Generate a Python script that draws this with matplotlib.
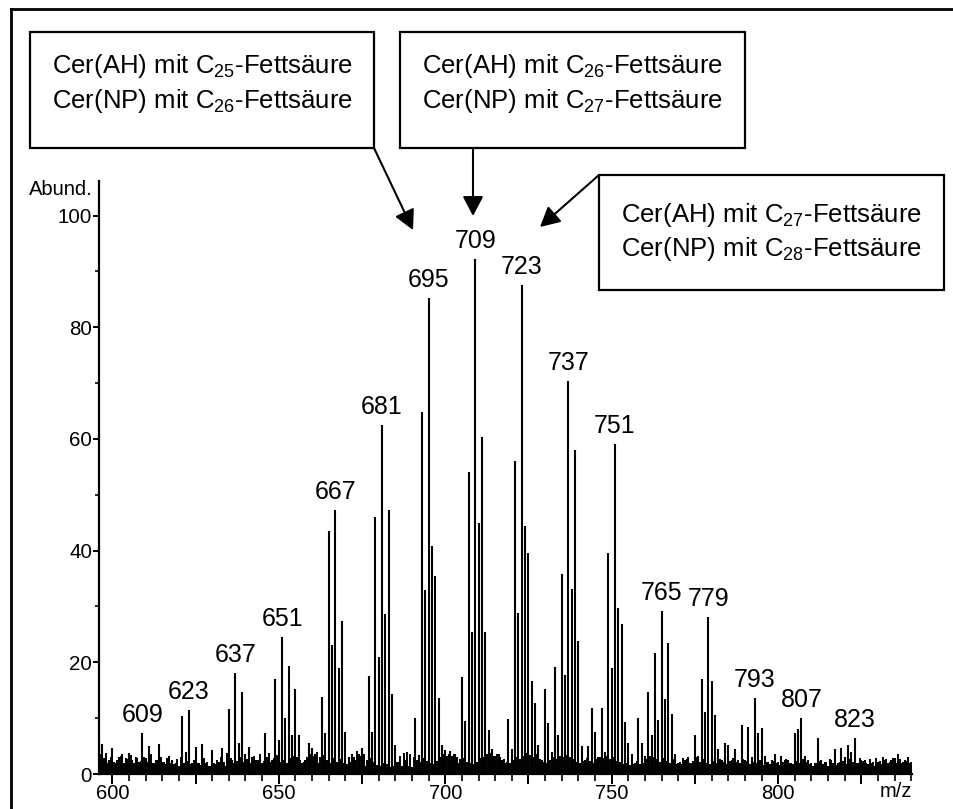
import numpy as np
import matplotlib
matplotlib.use("Agg")
import matplotlib.pyplot as plt
from matplotlib.patches import Rectangle, FancyArrowPatch
from matplotlib.lines import Line2D
from matplotlib.ticker import MultipleLocator, FuncFormatter

plt.rcParams['font.family'] = ['Liberation Sans', 'DejaVu Sans']
plt.rcParams['mathtext.default'] = 'regular'

# intensities at integer m/z, 596 ... 840
mz_start, mz_end = 596, 840
intensity = [
    6.0, 5.4, 3.8, 2.5, 4.7, 2.0, 3.0, 3.5, 2.8, 3.8,       # 596-605
    2.5, 3.0, 2.2, 7.4, 2.8, 5.0, 2.0, 2.5, 5.4, 2.2,       # 606-615
    1.8, 3.2, 2.5, 2.0, 1.5, 10.4, 3.9, 11.5, 2.0, 4.8,     # 616-625
    2.0, 5.4, 2.0, 1.5, 4.3, 1.8, 2.2, 4.6, 1.5, 11.7,      # 626-635
    2.5, 18.1, 5.6, 14.6, 3.5, 4.9, 3.0, 2.5, 2.5, 2.0,     # 636-645
    7.3, 3.8, 2.5, 17.1, 6.0, 24.6, 10.0, 19.3, 7.0, 15.3,  # 646-655
    7.0, 2.0, 2.5, 5.5, 4.6, 3.5, 2.0, 13.8, 7.4, 43.6,     # 656-665
    23.1, 47.3, 18.9, 27.4, 7.6, 3.0, 3.5, 2.5, 3.5, 4.6,   # 666-675
    1.5, 17.5, 7.6, 46.1, 21.0, 62.5, 28.6, 47.3, 14.3, 5.2,  # 676-685
    2.2, 1.5, 2.5, 1.5, 1.2, 10.1, 3.4, 64.9, 32.9, 85.3,   # 686-695
    40.8, 35.5, 13.6, 5.2, 4.3, 3.5, 3.2, 3.5, 2.0, 17.3,   # 696-705
    9.5, 54.0, 25.4, 92.3, 45.0, 60.4, 25.4, 7.9, 4.5, 3.2,  # 706-715
    3.5, 2.5, 2.0, 9.8, 4.5, 56.0, 28.9, 87.6, 44.4, 39.5,  # 716-725
    16.7, 12.7, 5.2, 2.5, 15.2, 9.1, 4.0, 19.2, 7.0, 35.9,  # 726-735
    17.7, 70.4, 33.2, 58.0, 23.9, 5.0, 2.5, 5.0, 11.8, 7.6,  # 736-745
    3.0, 11.8, 4.0, 39.6, 18.9, 59.1, 29.7, 26.9, 9.4, 5.6,  # 746-755
    3.5, 2.0, 10.1, 5.6, 3.2, 14.6, 7.0, 21.7, 9.7, 29.2,   # 756-765
    13.5, 23.4, 10.7, 3.5, 2.0, 1.8, 2.5, 3.0, 2.0, 7.0,    # 766-775
    3.2, 17.1, 11.1, 28.2, 16.7, 10.5, 4.4, 2.5, 5.6, 5.2,  # 776-785
    2.5, 4.5, 2.5, 8.8, 2.5, 8.5, 3.0, 13.7, 7.3, 8.2,      # 786-795
    3.2, 2.2, 2.5, 3.5, 2.2, 3.2, 2.5, 2.5, 2.0, 7.3,       # 796-805
    8.1, 10.1, 3.2, 2.5, 2.0, 2.0, 6.4, 2.5, 2.2, 1.5,      # 806-815
    2.5, 4.5, 2.0, 4.6, 3.0, 5.2, 4.0, 6.5, 2.0, 2.5,       # 816-825
    2.5, 1.8, 2.0, 1.5, 2.2, 1.8, 2.5, 2.0, 2.5, 2.8,       # 826-835
    3.5, 2.0, 2.5, 3.0, 2.2,                                # 836-840
]

# baseline noise between the nominal masses, 596.5 ... 839.5
noise_half = [
    3.5, 2.8, 2.0, 3.0, 2.2, 2.5, 3.2, 2.0, 2.6, 3.4,
    2.0, 2.8, 2.4, 3.0, 2.2, 3.6, 2.0, 2.5, 3.0, 2.2,
    2.8, 2.0, 1.8, 2.6, 3.0, 2.0, 2.4, 1.8, 2.5, 2.0,
    1.6, 2.8, 2.2, 1.5, 2.0, 2.5, 3.0, 2.2, 3.8, 2.8,
    2.0, 2.4, 3.0, 2.2, 2.6, 2.0, 3.2, 2.5, 3.5, 2.4,
    3.0, 2.2, 2.8, 3.4, 2.2, 2.5, 2.0, 2.8, 3.2, 3.0,
    2.5, 2.2, 3.0, 3.6, 3.2, 4.0, 3.0, 3.4, 2.5, 2.0,
    2.8, 2.2, 2.6, 2.0, 1.8, 2.2, 3.0, 4.2, 3.2, 3.6,
    2.5, 2.8, 2.2, 1.6, 1.5, 2.0, 1.8, 1.2, 1.5, 2.2,
    3.2, 3.8, 4.0, 3.6, 3.0, 2.5, 2.2, 2.8, 2.4, 2.0,
    1.8, 2.4, 3.0, 3.5, 3.2, 4.2, 3.6, 3.0, 2.6, 2.8,
    2.2, 2.0, 1.8, 2.2, 2.8, 3.0, 3.5, 3.8, 3.2, 3.6,
    3.0, 2.6, 2.2, 2.0, 2.5, 3.0, 2.6, 3.2, 3.8, 3.4,
    3.0, 3.6, 2.6, 2.2, 2.0, 2.5, 3.0, 2.6, 3.2, 3.0,
    3.4, 3.0, 2.6, 2.2, 2.0, 2.4, 2.8, 2.4, 2.0, 2.6,
    3.0, 2.8, 3.2, 2.6, 3.0, 2.4, 2.2, 1.8, 2.0, 1.6,
    1.8, 2.4, 1.8, 2.0, 2.6, 3.2, 3.0, 2.6, 2.2, 2.8,
    2.4, 2.0, 2.6, 1.8, 2.2, 2.8, 2.6, 2.0, 2.4, 3.0,
    2.2, 2.6, 2.0, 1.8, 2.4, 2.0, 2.6, 2.2, 1.8, 2.4,
    2.8, 2.2, 2.0, 2.6, 2.4, 1.8, 2.2, 2.0, 2.5, 1.6,
    2.2, 1.8, 2.4, 2.0, 1.6, 2.2, 2.6, 2.0, 1.8, 2.4,
    2.0, 2.6, 2.2, 1.8, 1.5, 2.0, 2.4, 1.8, 2.2, 2.6,
    2.0, 1.6, 2.2, 2.4, 1.8, 2.6, 2.2, 2.0, 2.8, 2.4,
    2.0, 2.6, 2.2, 2.8, 2.4, 3.0, 2.6, 2.2, 2.8, 2.0,
    2.6, 2.2, 2.4, 2.0,
]

labelled_peaks = [609, 623, 637, 651, 667, 681, 695, 709, 723, 737, 751,
                  765, 779, 793, 807, 823]

box_lines = [
    ("Cer(AH) mit C$_{25}$-Fettsäure", "Cer(NP) mit C$_{26}$-Fettsäure"),
    ("Cer(AH) mit C$_{26}$-Fettsäure", "Cer(NP) mit C$_{27}$-Fettsäure"),
    ("Cer(AH) mit C$_{27}$-Fettsäure", "Cer(NP) mit C$_{28}$-Fettsäure"),
]

W, H = 954, 809
fig = plt.figure(figsize=(W / 100, H / 100), dpi=100)


def px(x, y):
    # pixel position (top-left origin) -> figure fraction
    return x / W, 1 - y / H


ax = fig.add_axes([99 / W, 1 - 774 / H, (912 - 99) / W, (774 - 181) / H])

mz = np.arange(mz_start, mz_end + 1)
ax.vlines(mz[:-1] + 0.5, 0, noise_half, color='black', linewidth=1.4)
ax.vlines(mz, 0, intensity, color='black', linewidth=1.5)

ax.set_xlim(596, 840.2)
ax.set_ylim(0, 106.2)

for s in ['top', 'right']:
    ax.spines[s].set_visible(False)
for s in ['left', 'bottom']:
    ax.spines[s].set_linewidth(1.6)

ax.xaxis.set_major_locator(MultipleLocator(25))
ax.xaxis.set_minor_locator(MultipleLocator(5))
ax.xaxis.set_major_formatter(FuncFormatter(lambda v, p: f"{v:.0f}" if v % 50 == 0 else ""))
ax.yaxis.set_major_locator(MultipleLocator(20))
ax.yaxis.set_minor_locator(MultipleLocator(10))
ax.tick_params(axis='x', which='major', direction='out', length=7, width=1.4,
               labelsize=14.5, pad=0.5)
ax.tick_params(axis='x', which='minor', direction='out', length=5, width=1.2)
ax.tick_params(axis='y', which='major', direction='out', length=4.5, width=1.4,
               labelsize=14.8, pad=0.5)
ax.tick_params(axis='y', which='minor', direction='out', length=3, width=1.2)

ax.text(-0.008, 0.986, "Abund.", transform=ax.transAxes, ha='right', va='center',
        fontsize=14.5)
ax.text(1.0, -0.03, "m/z", transform=ax.transAxes, ha='right', va='center',
        fontsize=14.5)

for p in labelled_peaks:
    ax.annotate(str(p), (p, intensity[p - mz_start]), xytext=(0, 4),
                textcoords='offset points', ha='center', va='bottom',
                fontsize=18)

# outer frame: only the left and top edges show
fig.add_artist(Line2D([11 / W, 11 / W], [0, 1 - 9 / H], transform=fig.transFigure,
                      color='black', linewidth=2))
fig.add_artist(Line2D([11 / W, 1], [1 - 9 / H, 1 - 9 / H], transform=fig.transFigure,
                      color='black', linewidth=2))

# annotation boxes: (left, top, right, bottom) and the two text rows, in pixels
boxes = [(30, 32, 374, 148), (400, 32, 745, 148), (599, 175, 944, 290)]
text_rows = [(66, 101), (66, 101), (215, 249)]
for (x0, y0, x1, y1), rows, lines in zip(boxes, text_rows, box_lines):
    fig.add_artist(Rectangle(px(x0, y1), (x1 - x0) / W, (y1 - y0) / H,
                             transform=fig.transFigure, fill=False,
                             edgecolor='black', linewidth=1.6))
    cx = (x0 + x1) / 2
    for ty, line in zip(rows, lines):
        fig.text(*px(cx, ty), line, ha='center', va='center', fontsize=18.5)

arrows = [((374, 148), (413, 230)), ((473, 148), (473, 216)), ((599, 175), (540, 227))]
for start, end in arrows:
    fig.add_artist(FancyArrowPatch(px(*start), px(*end), transform=fig.transFigure,
                                   arrowstyle='-|>,head_length=12,head_width=6.3',
                                   mutation_scale=1, shrinkA=0, shrinkB=0,
                                   color='black', linewidth=1.5))

fig.savefig("out.png", dpi=100)
